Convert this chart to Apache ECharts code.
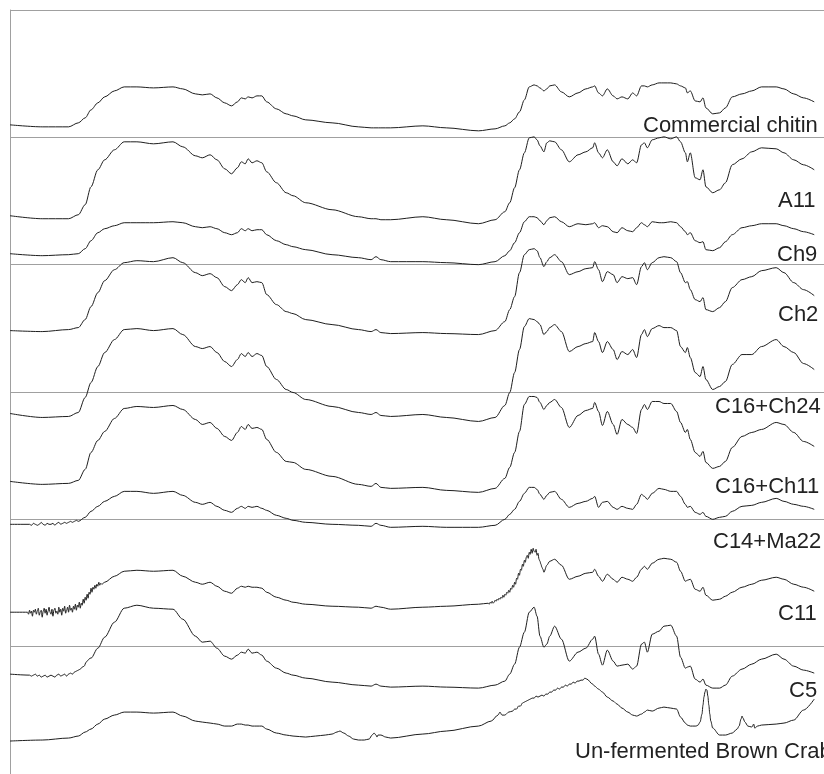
<!DOCTYPE html>
<html>
<head>
<meta charset="utf-8">
<script src="https://cdn.jsdelivr.net/npm/echarts@6/dist/echarts.min.js"></script>
<style>
  html, body { margin: 0; padding: 0; background: #fff; }
  #chart { width: 824px; height: 774px; }
</style>
</head>
<body>
<div id="chart"></div>
<script>
// Stacked FTIR spectra, wavenumber (cm-1) decreasing to the right.
// Intensities are already offset so the traces stack without overlap.

const wavenumbers = [4000, 3868, 3760, 3720, 3692, 3668, 3640, 3612, 3572, 3532,
  3480, 3412, 3332, 3292, 3240, 3212, 3180, 3152, 3120, 3092,
  3068, 3052, 3036, 3024, 3008, 2988, 2968, 2948, 2908, 2868,
  2840, 2788, 2680, 2572, 2520, 2500, 2480, 2440, 2308, 2212,
  2080, 2012, 1972, 1952, 1932, 1912, 1892, 1872, 1852, 1840,
  1828, 1812, 1800, 1788, 1768, 1740, 1708, 1672, 1640, 1612,
  1604, 1588, 1572, 1552, 1528, 1512, 1492, 1468, 1448, 1432,
  1412, 1400, 1388, 1368, 1340, 1320, 1292, 1268, 1252, 1232,
  1224, 1212, 1192, 1172, 1160, 1148, 1120, 1092, 1068, 1040,
  1000, 960, 920, 860, 828, 788, 748, 704];

const sampleNames = ['Commercial chitin', 'A11', 'Ch9', 'Ch2', 'C16+Ch24',
  'C16+Ch11', 'C14+Ma22', 'C11', 'C5', 'Un-fermented Brown Crab'];

const commercialChitin = [650, 648, 648, 652, 657, 665, 672, 678, 684, 688,
  688, 687, 688, 686, 681, 680, 681, 677, 672, 669,
  673, 677, 676, 678, 677, 679, 679, 673, 666, 661,
  659, 655, 652, 648, 647, 647, 647, 647, 649, 647,
  644, 646, 649, 652, 656, 663, 675, 688, 690, 689,
  687, 684, 686, 689, 690, 683, 678, 682, 686, 688,
  689, 682, 679, 686, 679, 676, 678, 676, 682, 679,
  689, 689, 688, 690, 692, 692, 692, 691, 689, 687,
  682, 684, 674, 673, 677, 667, 661, 662, 667, 678,
  681, 684, 688, 688, 686, 681, 677, 673];

const a11 = [559, 556, 556, 560, 570, 588, 605, 615, 625, 633,
  633, 631, 633, 628, 619, 617, 620, 615, 606, 601,
  607, 613, 611, 616, 612, 614, 612, 603, 592, 582,
  579, 572, 565, 558, 556, 556, 555, 555, 558, 555,
  551, 555, 563, 572, 587, 605, 622, 637, 638, 635,
  629, 623, 632, 634, 633, 625, 613, 620, 623, 627,
  632, 622, 617, 625, 613, 609, 616, 611, 615, 612,
  630, 632, 627, 635, 637, 638, 636, 638, 633, 622,
  613, 622, 597, 595, 605, 588, 582, 585, 592, 610,
  616, 623, 627, 626, 622, 615, 610, 605];

const ch9 = [521, 519, 520, 521, 526, 534, 542, 546, 549, 552,
  552, 552, 553, 552, 548, 547, 548, 546, 542, 540,
  542, 546, 544, 546, 544, 545, 545, 540, 534, 530,
  528, 525, 520, 517, 515, 518, 515, 513, 513, 512,
  510, 513, 519, 524, 532, 542, 553, 558, 558, 557,
  554, 550, 554, 557, 558, 553, 548, 551, 550, 551,
  552, 547, 549, 548, 543, 542, 547, 544, 543, 547,
  552, 550, 548, 553, 552, 552, 553, 552, 548, 543,
  540, 542, 534, 532, 533, 525, 524, 527, 533, 540,
  547, 549, 551, 551, 549, 546, 543, 540];

const ch2 = [444, 443, 445, 447, 455, 468, 482, 494, 505, 512,
  514, 513, 517, 512, 502, 499, 501, 497, 488, 484,
  490, 495, 492, 497, 492, 493, 492, 480, 470, 463,
  461, 455, 450, 445, 443, 445, 442, 441, 442, 441,
  440, 444, 453, 465, 478, 502, 520, 525, 526, 524,
  517, 508, 513, 517, 520, 513, 500, 503, 506, 507,
  513, 505, 493, 503, 500, 492, 498, 496, 497, 490,
  508, 512, 505, 512, 517, 518, 517, 513, 502, 492,
  493, 485, 475, 473, 477, 465, 463, 467, 473, 487,
  495, 498, 504, 507, 502, 492, 485, 479];

const c16Ch24 = [361, 357, 358, 362, 377, 392, 408, 422, 435, 445,
  446, 444, 446, 440, 428, 426, 428, 422, 413, 408,
  415, 421, 418, 422, 418, 421, 419, 408, 395, 385,
  382, 375, 368, 362, 360, 362, 359, 358, 360, 357,
  353, 357, 369, 382, 402, 425, 448, 456, 455, 453,
  450, 440, 443, 447, 450, 443, 423, 428, 431, 433,
  442, 433, 422, 433, 425, 415, 423, 420, 425, 417,
  440, 445, 438, 446, 449, 447, 447, 444, 428, 422,
  427, 417, 402, 398, 408, 395, 385, 388, 393, 410,
  420, 420, 428, 435, 428, 422, 411, 405];

const c16Ch11 = [293, 290, 291, 294, 305, 322, 334, 343, 356, 366,
  368, 367, 369, 365, 355, 350, 352, 346, 338, 334,
  342, 348, 345, 350, 346, 347, 345, 335, 322, 313,
  312, 305, 298, 290, 288, 291, 287, 286, 287, 284,
  282, 286, 296, 307, 322, 343, 370, 378, 378, 377,
  372, 365, 369, 372, 375, 367, 347, 359, 364, 366,
  372, 363, 349, 363, 350, 340, 355, 350, 347, 341,
  365, 370, 365, 373, 373, 371, 371, 363, 352, 342,
  345, 335, 322, 318, 323, 312, 306, 308, 313, 327,
  338, 342, 345, 352, 350, 342, 333, 328];

const c14Ma22 = [250, 250, 251, 253, 257, 263, 268, 273, 278, 283,
  283, 281, 283, 279, 272, 270, 272, 268, 264, 262,
  266, 268, 266, 268, 267, 268, 266, 264, 259, 256,
  254, 252, 250, 249, 248, 251, 249, 247, 248, 247,
  247, 249, 255, 260, 265, 273, 281, 287, 287, 285,
  280, 275, 279, 282, 283, 275, 267, 271, 273, 276,
  278, 267, 272, 273, 267, 265, 268, 266, 265, 270,
  280, 278, 275, 281, 286, 285, 283, 283, 278, 270,
  267, 268, 262, 260, 262, 258, 255, 257, 258, 263,
  268, 269, 272, 276, 273, 270, 268, 265];

const c11 = [162, 162, 164, 167, 171, 182, 187, 192, 198, 203,
  204, 203, 204, 198, 192, 190, 192, 188, 183, 181,
  186, 188, 187, 188, 187, 187, 186, 182, 177, 174,
  172, 170, 168, 167, 166, 168, 167, 165, 167, 168,
  170, 173, 178, 182, 187, 197, 210, 219, 223, 218,
  210, 202, 209, 213, 215, 209, 195, 198, 201, 202,
  205, 198, 193, 200, 195, 192, 197, 195, 193, 197,
  205, 208, 205, 211, 215, 216, 215, 212, 203, 193,
  194, 195, 185, 183, 187, 179, 174, 175, 178, 182,
  187, 190, 194, 197, 195, 190, 187, 183];

const c5 = [100, 97, 99, 104, 108, 116, 126, 137, 152, 166,
  169, 166, 165, 155, 138, 132, 133, 126, 118, 115,
  119, 122, 121, 125, 121, 122, 119, 113, 106, 101,
  99, 96, 92, 89, 88, 90, 88, 87, 88, 87,
  86, 89, 93, 100, 110, 127, 142, 162, 167, 158,
  138, 127, 130, 138, 148, 135, 113, 122, 126, 135,
  138, 120, 109, 124, 113, 108, 109, 110, 105, 108,
  130, 132, 122, 140, 143, 148, 149, 138, 117, 106,
  107, 108, 95, 92, 95, 89, 86, 86, 89, 98,
  105, 110, 115, 120, 115, 108, 104, 101];

const brownCrab = [33, 34, 36, 38, 42, 45, 50, 55, 59, 62,
  62, 61, 62, 58, 53, 52, 51, 50, 48, 48,
  50, 50, 49, 49, 48, 48, 48, 45, 41, 39,
  38, 37, 40, 34, 36, 40, 39, 36, 40, 43,
  48, 55, 60, 61, 65, 69, 73, 75, 77, 77,
  78, 78, 79, 82, 84, 87, 89, 92, 95, 90,
  88, 85, 82, 77, 73, 70, 66, 62, 59, 58,
  60, 62, 64, 63, 66, 67, 66, 65, 57, 51,
  49, 48, 48, 52, 70, 83, 47, 39, 39, 41,
  58, 47, 49, 50, 51, 54, 64, 75];

// Densely sampled stretches (noisy baselines and narrow bands), start cm-1 + step.
const c14Ma22Noise = { start: 3920, step: -8, values: [250, 249, 251, 250, 249, 250, 252, 250, 249, 251,
  250, 250, 251, 249, 251, 252, 250, 251, 252, 251, 252, 253, 252, 253, 254] };

const c11BaselineNoise = { start: 3928, step: -4, values: [162, 160, 164, 161, 163, 158, 164, 162, 165, 160,
  163, 166, 159, 162, 164, 157, 163, 166, 161, 165,
  159, 163, 167, 162, 160, 165, 158, 164, 166, 161,
  163, 160, 167, 162, 165, 159, 166, 163, 168, 161,
  164, 167, 162, 169, 164, 166, 162, 168, 165, 170,
  164, 169, 167, 172, 166, 171, 169, 175, 171, 177,
  174, 180, 176, 182, 180, 186, 182, 187, 185, 189,
  186, 190, 188, 192, 189, 191, 190] };

const c11AmideNoise = { start: 2040, step: -4, values: [171, 170, 172, 171, 173, 171, 172, 174, 173, 175,
  174, 176, 175, 177, 176, 179, 177, 180, 179, 182,
  181, 184, 182, 186, 185, 189, 187, 192, 190, 196,
  195, 201, 199, 205, 204, 210, 208, 214, 212, 217,
  219, 216, 222, 220, 225, 221, 226, 223, 222, 225,
  219, 221, 215, 213, 210, 207, 205, 202] };

const c5BaselineNoise = { start: 3920, step: -8, values: [99, 98, 99, 100, 98, 99, 97, 98, 99, 97,
  98, 99, 98, 97, 99, 100, 98, 99, 100, 98,
  100, 101, 100, 102, 103, 104, 105, 107, 108, 112, 114, 116] };

const brownCrabWeakBands = { points: [[2748, 38], [2708, 39], [2680, 40], [2660, 42], [2648, 43],
  [2632, 41], [2612, 38], [2592, 35], [2572, 34], [2548, 34], [2528, 35], [2516, 39],
  [2508, 41], [2500, 39], [2496, 37], [2492, 39], [2480, 39], [2460, 37], [2440, 36]] };

const brownCrabCarbonyl = { points: [[2028, 53], [2000, 59], [1992, 62], [1984, 59], [1972, 59],
  [1956, 62], [1940, 63], [1932, 65], [1924, 65], [1916, 68], [1908, 68], [1900, 71],
  [1892, 72], [1884, 73], [1876, 74], [1868, 75], [1860, 76], [1852, 76], [1844, 78],
  [1836, 77], [1828, 78], [1820, 79], [1812, 78], [1804, 80], [1796, 80], [1788, 82],
  [1780, 82], [1772, 84], [1764, 84], [1756, 86], [1748, 85], [1740, 87], [1732, 87],
  [1724, 89], [1716, 88], [1708, 90], [1700, 90], [1692, 92], [1684, 91], [1676, 93],
  [1668, 93], [1660, 94], [1652, 94], [1644, 96], [1636, 95]] };

const brownCrabSharpBand = { points: [[1188, 48], [1180, 49], [1172, 52], [1164, 60], [1160, 69],
  [1156, 77], [1152, 82], [1148, 85], [1144, 84], [1140, 78], [1136, 69], [1132, 60],
  [1128, 53], [1120, 46]] };

const brownCrabLowBand = { points: [[1020, 45], [1012, 48], [1004, 55], [1000, 58], [996, 56],
  [988, 52], [976, 48], [960, 47], [952, 50], [948, 46], [936, 48]] };

const spectra = [
  { values: commercialChitin, detail: [] },
  { values: a11, detail: [] },
  { values: ch9, detail: [] },
  { values: ch2, detail: [] },
  { values: c16Ch24, detail: [] },
  { values: c16Ch11, detail: [] },
  { values: c14Ma22, detail: [c14Ma22Noise] },
  { values: c11, detail: [c11BaselineNoise, c11AmideNoise] },
  { values: c5, detail: [c5BaselineNoise] },
  { values: brownCrab, detail: [brownCrabWeakBands, brownCrabCarbonyl, brownCrabSharpBand, brownCrabLowBand] }
];

// Name label placement (pixels: left edge, vertical centre).
const labelLayout = [[643, 126], [778, 201], [777, 255], [778, 315], [715, 407],
  [715, 487], [713, 542], [778, 614], [789, 691], [575, 752]];

function segmentPoints(seg) {
  if (seg.points) return seg.points;
  return seg.values.map((v, i) => [seg.start + seg.step * i, v]);
}

function buildTrace(spec) {
  const segs = spec.detail.map(segmentPoints);
  const ranges = segs.map(p => {
    const xs = p.map(q => q[0]);
    return [Math.min.apply(null, xs), Math.max.apply(null, xs)];
  });
  let pts = wavenumbers.map((w, i) => [w, spec.values[i]])
    .filter(p => !ranges.some(r => p[0] >= r[0] && p[0] <= r[1]));
  segs.forEach(p => { pts = pts.concat(p); });
  pts.sort((a, b) => b[0] - a[0]);
  return pts;
}

const chart = echarts.init(document.getElementById('chart'), null, { renderer: 'canvas' });

const gridColor = '#a0a0a0';

const option = {
  animation: false,
  backgroundColor: '#ffffff',
  grid: { left: 10, top: 10, right: -20, bottom: -1, containLabel: false },
  xAxis: {
    type: 'value', min: 664, max: 4000, inverse: true,
    axisLine: { show: false }, axisTick: { show: false },
    axisLabel: { show: false }, splitLine: { show: false }
  },
  yAxis: {
    type: 'value', min: 0, max: 765, interval: 127.5,
    axisLine: { show: true, onZero: false, lineStyle: { color: gridColor, width: 1 } },
    axisTick: { show: false }, axisLabel: { show: false },
    splitLine: { show: true, lineStyle: { color: gridColor, width: 1 } }
  },
  series: spectra.map((spec, i) => ({
    name: sampleNames[i],
    type: 'line',
    data: buildTrace(spec),
    showSymbol: false,
    symbol: 'none',
    smooth: 0.3,
    smoothMonotone: 'x',
    lineStyle: { color: '#1e1e1e', width: 1 },
    emphasis: { disabled: true },
    z: 3
  })),
  graphic: sampleNames.map((name, i) => ({
    type: 'text',
    x: labelLayout[i][0],
    y: labelLayout[i][1],
    z: 10,
    style: {
      text: name,
      font: '22px "Liberation Sans", Arial, sans-serif',
      fill: '#222222',
      align: 'left',
      verticalAlign: 'middle'
    }
  }))
};

chart.setOption(option);
</script>
</body>
</html>
